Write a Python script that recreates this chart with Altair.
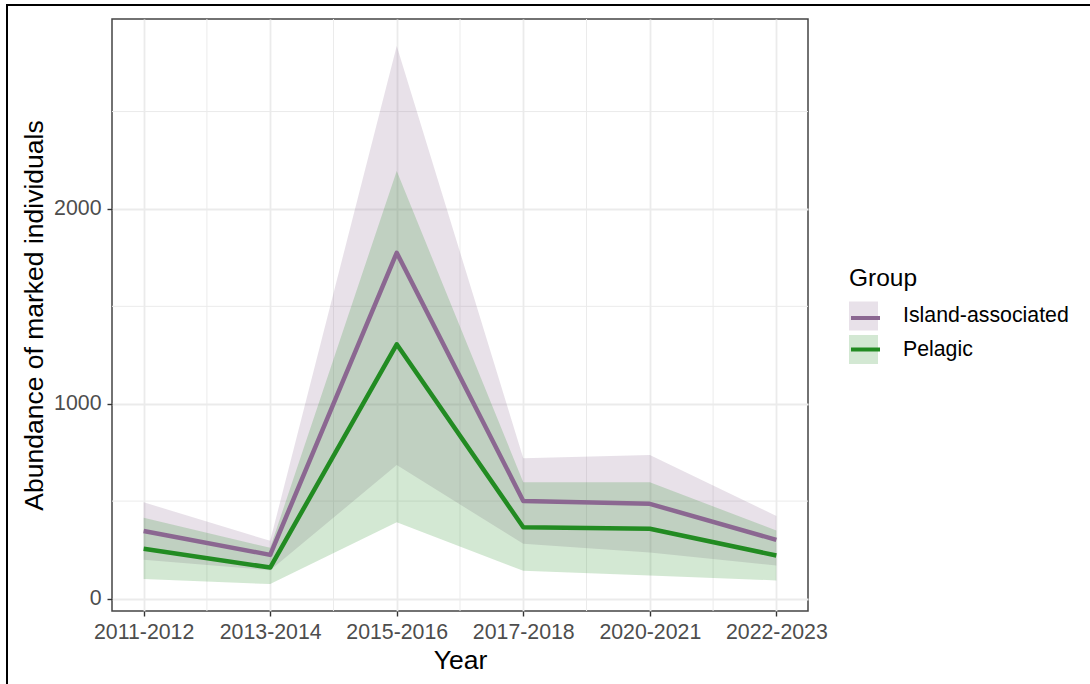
import json

import altair as alt
import pandas as pd

# Survey periods and groups
years = ["2011-2012", "2013-2014", "2015-2016", "2017-2018", "2020-2021", "2022-2023"]
groups = ["Island-associated", "Pelagic"]

# Abundance estimates with lower / upper confidence bounds
island_est = [347, 224, 1775, 501, 486, 301]
island_lo = [199, 145, 685, 281, 236, 170]
island_hi = [494, 296, 2837, 720, 737, 424]
pelagic_est = [255, 159, 1305, 366, 358, 221]
pelagic_lo = [100, 74, 392, 142, 118, 93]
pelagic_hi = [415, 260, 2195, 597, 597, 349]

colors = ["#8B6791", "#228B22"]
y_major = [0, 1000, 2000]
y_minor = [500, 1500, 2500]

FONT = "Liberation Sans"
W, H = 696, 592
PAD_L, PAD_T = 112, 19

rows = []
for g, est, lo, hi in [
    (groups[0], island_est, island_lo, island_hi),
    (groups[1], pelagic_est, pelagic_lo, pelagic_hi),
]:
    for i, yr in enumerate(years):
        rows.append({"group": g, "year": yr, "pos": i + 1,
                     "est": est[i], "lo": lo[i], "hi": hi[i]})
df = pd.DataFrame(rows)

# ggplot-style 5% expansion of continuous ranges
n = len(years)
x_dom = [1 - 0.05 * (n - 1), n + 0.05 * (n - 1)]
y_min, y_max = df["lo"].min(), df["hi"].max()
y_pad = 0.05 * (y_max - y_min)
y_dom = [y_min - y_pad, y_max + y_pad]
x_minor = [i + 1.5 for i in range(n - 1)]

x_scale = alt.Scale(domain=x_dom, nice=False, zero=False)
y_scale = alt.Scale(domain=y_dom, nice=False, zero=False)

x_axis = alt.Axis(
    values=list(range(1, n + 1)),
    labelExpr=json.dumps(years) + "[datum.value - 1]",
    labelFlush=False, labelOverlap=False,
    grid=True, gridColor="#EBEBEB", gridWidth=1.8,
    domain=False, tickColor="#333333", tickWidth=1.4, tickSize=5,
    labelFont=FONT, labelFontSize=21.3, labelColor="#4D4D4D", labelPadding=5,
    title="Year", titleFont=FONT, titleFontSize=26.5, titleFontWeight="normal",
    titleColor="black", titleX=W / 2, titleY=57.5, titleAlign="center",
    titleBaseline="alphabetic",
)
y_axis = alt.Axis(
    values=y_major, format="d", labelFlush=False, labelOverlap=False,
    grid=True, gridColor="#EBEBEB", gridWidth=1.8,
    domain=False, tickColor="#333333", tickWidth=1.4, tickSize=5,
    labelFont=FONT, labelFontSize=21.3, labelColor="#4D4D4D", labelPadding=6,
    title="Abundance of marked individuals", titleFont=FONT, titleFontSize=26.5,
    titleFontWeight="normal", titleColor="black", titleAngle=270,
    titleX=-70, titleY=H / 2, titleAlign="center", titleBaseline="alphabetic",
)


def xq(field):
    return alt.X(f"{field}:Q", scale=x_scale, axis=x_axis)


def yq(field):
    return alt.Y(f"{field}:Q", scale=y_scale, axis=y_axis)


color_scale = alt.Scale(domain=groups, range=colors)
legend_common = dict(
    orient="none", legendX=737, legendY=248, padding=0,
    symbolSize=841, rowPadding=4.5, labelOffset=25, labelLimit=0,
    labelFont=FONT, labelFontSize=21.3, titleFont=FONT, titleFontSize=24.5,
    titleFontWeight="normal", titlePadding=10,
)

# Outer frame (top and left edges)
frame_src = pd.DataFrame({"k": [0]})
frame_top = alt.Chart(frame_src).mark_rule(color="black", strokeWidth=2).encode(
    x=alt.value(-106), x2=alt.value(1090 - PAD_L), y=alt.value(5 - PAD_T)
)
frame_left = alt.Chart(frame_src).mark_rule(color="black", strokeWidth=2).encode(
    x=alt.value(7 - PAD_L), y=alt.value(4 - PAD_T), y2=alt.value(684 - PAD_T)
)

# Minor gridlines
grid_x = alt.Chart(pd.DataFrame({"v": x_minor})).mark_rule(
    color="#EBEBEB", strokeWidth=1
).encode(x=xq("v"))
grid_y = alt.Chart(pd.DataFrame({"v": y_minor})).mark_rule(
    color="#EBEBEB", strokeWidth=1
).encode(y=yq("v"))

# Confidence ribbons; their legend carries the visible title and labels
ribbons = alt.Chart(df).mark_area(opacity=0.2).encode(
    x=xq("pos"),
    y=yq("lo"),
    y2="hi:Q",
    fill=alt.Fill("group:N", scale=color_scale, legend=alt.Legend(
        title="Group", symbolType="square", symbolOpacity=0.2, symbolStrokeWidth=0,
        labelColor="black", titleColor="black", **legend_common)),
)

# Estimate lines; their legend only adds the line stroke over each key
lines = alt.Chart(df).mark_line(strokeWidth=4.5, strokeJoin="round").encode(
    x=xq("pos"),
    y=yq("est"),
    stroke=alt.Stroke("group:N", scale=color_scale, legend=alt.Legend(
        title=" ", symbolType="stroke", symbolStrokeWidth=4, symbolOpacity=1,
        labelExpr="''", titleColor="transparent", **legend_common)),
)

chart = alt.layer(frame_top, frame_left, grid_x, grid_y, ribbons, lines).resolve_scale(
    fill="independent", stroke="independent"
).properties(
    width=W, height=H,
    autosize=alt.AutoSizeParams(type="none"),
    padding={"left": PAD_L, "top": PAD_T, "right": 1090 - PAD_L - W, "bottom": 684 - PAD_T - H},
    background="white",
).configure_view(
    stroke="#444444", strokeWidth=1.5
)

chart.save("out.html", embed_options={"renderer": "svg", "actions": False})
